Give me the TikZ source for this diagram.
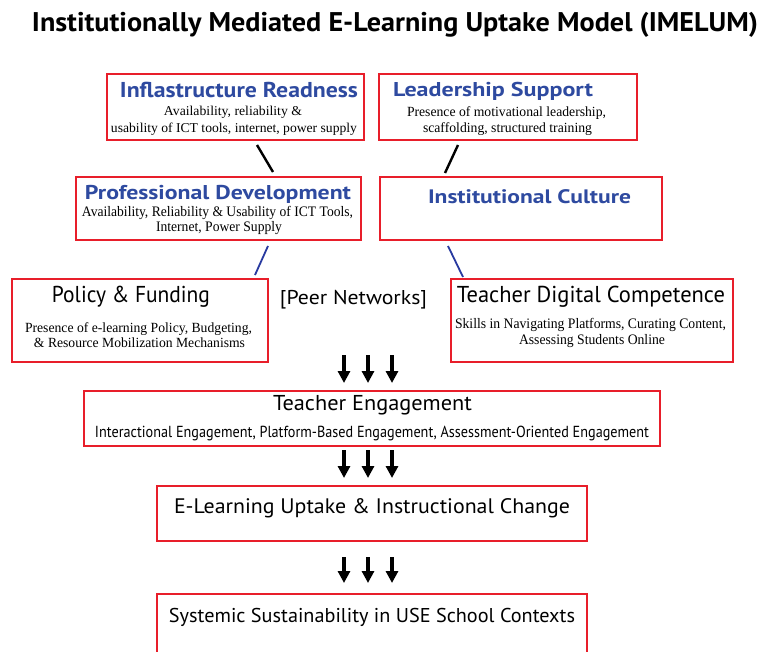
\documentclass[tikz,border=0pt]{standalone}
\usepackage{fontspec}
\usepackage{graphicx}
\setmainfont{Liberation Serif}
\newfontfamily\headfont{PT Sans}
\usetikzlibrary{arrows.meta,calc}

\definecolor{boxred}{RGB}{232,30,42}
\definecolor{headblue}{RGB}{46,74,160}
\definecolor{linkblue}{RGB}{40,58,160}

% stretch or squeeze a line of text to a given width, keeping its height
\newcommand\fitw[2]{\resizebox{#1pt}{\height}{#2}}

\begin{document}
\begin{tikzpicture}[x=1pt,y=-1pt,
  redbox/.style={draw=boxred, line width=2.6pt, inner sep=0pt, outer sep=0pt},
  txt/.style={anchor=base, inner sep=0pt, outer sep=0pt},
  titletext/.style={txt, font=\headfont\bfseries\fontsize{#1}{#1}\selectfont},
  heading/.style={txt, text=headblue, font=\headfont\bfseries\fontsize{#1}{#1}\selectfont},
  label/.style={txt, font=\headfont\fontsize{#1}{#1}\selectfont},
  detail/.style={txt, font=\rmfamily\fontsize{#1}{#1}\selectfont},
  blacklink/.style={draw=black, line width=2.4pt},
  bluelink/.style={draw=linkblue, line width=1.8pt},
  bigarrow/.style={draw=black, line width=4pt, -{Triangle[width=12pt,length=12pt]}}
]
\useasboundingbox (0,0) rectangle (760,652);
\clip (0,0) rectangle (760,652);
\fill[white] (0,0) rectangle (760,652);

% title
\node[titletext=27] (title) at (395,32)
  {\fitw{726}{Institutionally Mediated E-Learning Uptake Model (IMELUM)}};

% first row
\node[redbox, minimum width=257pt, minimum height=66pt] (IR) at (235.5,107) {};
\node[heading=21.5] (IRh) at (239,98) {\fitw{238}{Inflastructure Readness}};
\node[detail=13.5] (IRa) at (233,115.5) {\fitw{138}{Availability, reliability \&}};
\node[detail=13.5] (IRb) at (234,133) {\fitw{246}{usability of ICT tools, internet, power supply}};

\node[redbox, minimum width=258pt, minimum height=66pt] (LS) at (508,107) {};
\node[heading=20] (LSh) at (493,97) {\fitw{200}{Leadership Support}};
\node[detail=14] (LSa) at (506.5,117) {\fitw{199}{Presence of motivational leadership,}};
\node[detail=14] (LSb) at (507.5,133) {\fitw{169}{scaffolding, structured training}};

% second row
\node[redbox, minimum width=285pt, minimum height=63pt] (PD) at (218.5,208.5) {};
\node[heading=20] (PDh) at (218,200) {\fitw{266}{Professional Development}};
\node[detail=14.5] (PDa) at (217.5,217) {\fitw{271}{Availability, Reliability \& Usability of ICT Tools,}};
\node[detail=14.5] (PDb) at (219,232) {\fitw{126}{Internet, Power Supply}};

\node[redbox, minimum width=282pt, minimum height=63pt] (IC) at (521,208.5) {};
\node[heading=19.5] (ICh) at (529.5,204) {\fitw{203}{Institutional Culture}};

% third row
\node[redbox, minimum width=256pt, minimum height=83pt] (PF) at (140,320.5) {};
\node[label=23] (PFh) at (131,303) {\fitw{158}{Policy \& Funding}};
\node[detail=14] (PFa) at (138.5,332) {\fitw{227}{Presence of e-learning Policy, Budgeting,}};
\node[detail=14] (PFb) at (139.5,347) {\fitw{211}{\& Resource Mobilization Mechanisms}};

\node[label=20] (PN) at (353.5,305) {\fitw{147}{[Peer Networks]}};

\node[redbox, minimum width=282pt, minimum height=83pt] (TDC) at (592,320.5) {};
\node[label=23] (TDCh) at (591,303) {\fitw{268}{Teacher Digital Competence}};
\node[detail=14.5] (TDCa) at (590.5,328) {\fitw{271}{Skills in Navigating Platforms, Curating Content,}};
\node[detail=14.5] (TDCb) at (592,344) {\fitw{146}{Assessing Students Online}};

% engagement and outcomes
\node[redbox, minimum width=576pt, minimum height=55pt] (TE) at (372,418.5) {};
\node[label=21.5] (TEh) at (372.5,410) {\fitw{199}{Teacher Engagement}};
\node[label=16] (TEa) at (372,437)
  {\fitw{554}{Interactional Engagement, Platform-Based Engagement, Assessment-Oriented Engagement}};

\node[redbox, minimum width=430pt, minimum height=55pt] (EL) at (372,513.5) {};
\node[label=21] (ELh) at (372,513) {\fitw{396}{E-Learning Uptake \& Instructional Change}};

\node[redbox, minimum width=430pt, minimum height=66pt] (SS) at (372,627) {};
\node[label=20] (SSh) at (372,622) {\fitw{406}{Systemic Sustainability in USE School Contexts}};

% short links between the stacked boxes
\coordinate (ir1) at ($(IR.south west)+(150,5)$);
\coordinate (pd1) at ($(PD.north west)+(197,-5)$);
\coordinate (ls1) at ($(LS.south west)+(79,5)$);
\coordinate (ic1) at ($(IC.north west)+(65,-4)$);
\coordinate (pd2) at ($(PD.south west)+(192,6)$);
\coordinate (pf1) at ($(PF.north west)+(243,-4)$);
\coordinate (ic2) at ($(IC.south west)+(68,6)$);
\coordinate (tdc1) at ($(TDC.north west)+(12,-2)$);
\draw[blacklink] (ir1) -- (pd1);
\draw[blacklink] (ls1) -- (ic1);
\draw[bluelink] (pd2) -- (pf1);
\draw[bluelink] (ic2) -- (tdc1);

% triple arrows feeding each lower box
\foreach \dx [count=\i] in {-28,-4,20} {
  \coordinate (ta\i) at ($(TE.north)+(\dx,-36)$);
  \coordinate (tb\i) at ($(TE.north)+(\dx,-8)$);
  \draw[bigarrow] (ta\i) -- (tb\i);
  \coordinate (ea\i) at ($(EL.north)+(\dx,-36)$);
  \coordinate (eb\i) at ($(EL.north)+(\dx,-8)$);
  \draw[bigarrow] (ea\i) -- (eb\i);
  \coordinate (sa\i) at ($(SS.north)+(\dx,-37)$);
  \coordinate (sb\i) at ($(SS.north)+(\dx,-11)$);
  \draw[bigarrow] (sa\i) -- (sb\i);
}
\end{tikzpicture}
\end{document}
